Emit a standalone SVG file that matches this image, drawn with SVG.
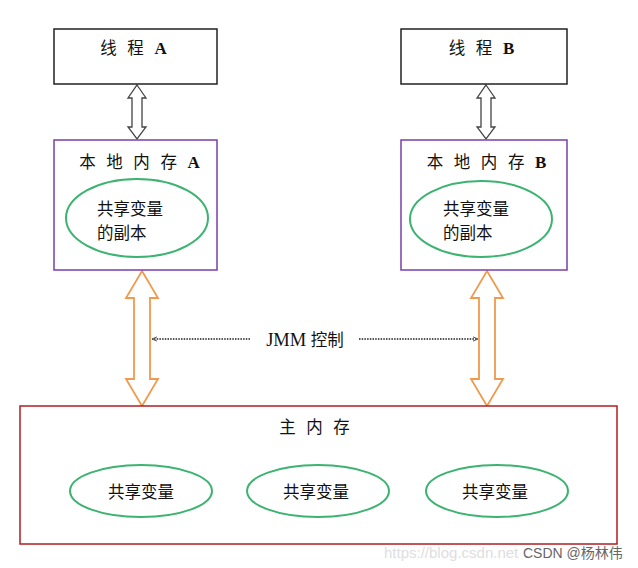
<svg xmlns="http://www.w3.org/2000/svg" width="638" height="568" viewBox="0 0 638 568">
<style>
.cjk{font-family:"Liberation Sans","Noto Sans CJK SC",sans-serif;font-size:16.5px;fill:#111}
.lat{font-family:"Liberation Serif","Noto Sans CJK SC",serif;font-weight:bold}
.thread{fill:#fff;stroke:#222;stroke-width:1.5}
.local{fill:#fff;stroke:#7a3fa8;stroke-width:1.5}
.main{fill:#fff;stroke:#b01c22;stroke-width:1.5}
.var{fill:#fff;stroke:#3cb371;stroke-width:2}
.garrow{fill:#fff;stroke:#444;stroke-width:1.3}
.oarrow{fill:#fff;stroke:#ef9a4d;stroke-width:1.8}
.dot{stroke:#555;stroke-width:1.8;stroke-dasharray:1.5 1.2;fill:none}
</style>
<defs>
<marker id="ah" viewBox="0 0 8 8" refX="7" refY="4" markerWidth="6" markerHeight="6" orient="auto-start-reverse" markerUnits="userSpaceOnUse">
<path d="M0,1 L7,4 L0,7" fill="none" stroke="#555" stroke-width="1.3"/>
</marker>
</defs>
<rect width="638" height="568" fill="#fff"/>

<g id="connectors">
<path class="garrow" d="M137,85 L146,98 L142,98 L142,127 L146,127 L137,139 L128,127 L132,127 L132,98 L128,98 Z"/>
<path class="garrow" d="M486,85 L495,98 L491,98 L491,127 L495,127 L486,139 L477,127 L481,127 L481,98 L477,98 Z"/>
<path class="oarrow" d="M142,271 L158,298 L150,298 L150,379 L158,379 L142,406 L126,379 L134,379 L134,298 L126,298 Z"/>
<path class="oarrow" d="M487,271 L503,298 L495,298 L495,379 L503,379 L487,406 L471,379 L479,379 L479,298 L471,298 Z"/>
<line class="dot" x1="250" y1="339" x2="152" y2="339" marker-end="url(#ah)"/>
<line class="dot" x1="359" y1="339" x2="478" y2="339" marker-end="url(#ah)"/>
<text class="cjk" x="305" y="346" text-anchor="middle" font-size="18"><tspan font-family="Liberation Serif" font-size="18.5">JMM</tspan> 控制</text>
</g>

<g id="threadA">
<rect class="thread" x="54" y="29" width="163" height="55"/>
<text class="cjk" x="135" y="54" text-anchor="middle" letter-spacing="3">线 程 <tspan class="lat" font-size="17">A</tspan></text>
</g>
<g id="threadB">
<rect class="thread" x="401" y="29" width="166" height="55"/>
<text class="cjk" x="483" y="54" text-anchor="middle" letter-spacing="3">线 程 <tspan class="lat" font-size="17">B</tspan></text>
</g>

<g id="localA">
<rect class="local" x="54" y="140" width="163" height="130"/>
<text class="cjk" x="141" y="168" text-anchor="middle" letter-spacing="3">本 地 内 存 <tspan class="lat" font-size="17">A</tspan></text>
<ellipse class="var" cx="137" cy="218" rx="71" ry="39"/>
<text class="cjk" x="97" y="215" font-size="18">共享变量</text>
<text class="cjk" x="97" y="239" font-size="18">的副本</text>
</g>
<g id="localB">
<rect class="local" x="401" y="140" width="166" height="130"/>
<text class="cjk" x="488" y="168" text-anchor="middle" letter-spacing="3">本 地 内 存 <tspan class="lat" font-size="17">B</tspan></text>
<ellipse class="var" cx="481" cy="219" rx="71" ry="38"/>
<text class="cjk" x="443" y="215" font-size="18">共享变量</text>
<text class="cjk" x="443" y="239" font-size="18">的副本</text>
</g>

<g id="mainMemory">
<rect class="main" x="20" y="406" width="597" height="138"/>
<text class="cjk" x="316" y="433" text-anchor="middle" letter-spacing="3">主 内 存</text>
<ellipse class="var" cx="141" cy="491" rx="71" ry="26"/>
<text class="cjk" x="141" y="498" text-anchor="middle" font-size="18.5">共享变量</text>
<ellipse class="var" cx="318" cy="491" rx="71" ry="26"/>
<text class="cjk" x="316" y="498" text-anchor="middle" font-size="18.5">共享变量</text>
<ellipse class="var" cx="497" cy="491" rx="71" ry="26"/>
<text class="cjk" x="495" y="498" text-anchor="middle" font-size="18.5">共享变量</text>
</g>

<g id="watermark">
<text x="384" y="558" font-family="Liberation Sans,sans-serif" font-size="15" fill="#dedede">https://blog.csdn.net</text>
<text x="523" y="558" font-family="Liberation Sans,'Noto Sans CJK SC',sans-serif" font-size="14" fill="#666">CSDN @杨林伟</text>
</g>
</svg>
